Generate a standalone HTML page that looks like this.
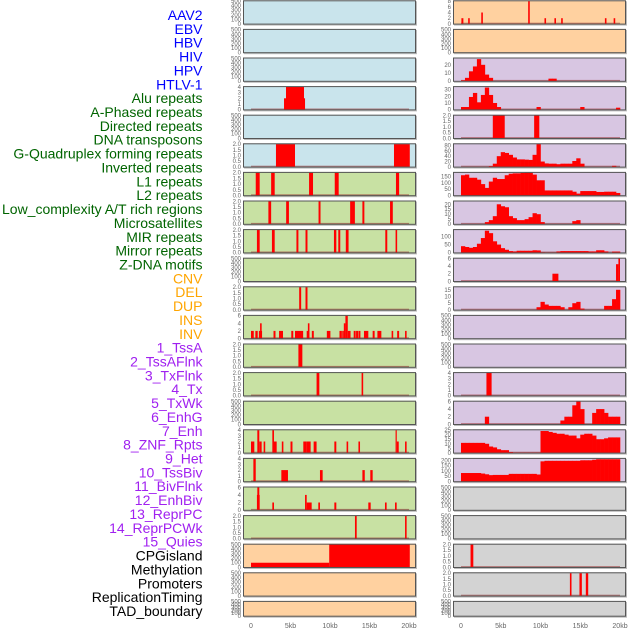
<!DOCTYPE html>
<html><head><meta charset="utf-8">
<style>
html,body{margin:0;padding:0;background:#fff;}
#wrap{position:relative;width:630px;height:630px;overflow:hidden;}
svg{position:absolute;left:0;top:0;}
</style></head>
<body>
<div id="wrap">
<svg id="chart" width="630" height="630" xmlns="http://www.w3.org/2000/svg"></svg>
</div>
<script>
// ---------- labels ----------
const labels = ["AAV2","EBV","HBV","HIV","HPV","HTLV-1","Alu repeats","A-Phased repeats","Directed repeats","DNA transposons","G-Quadruplex forming repeats","Inverted repeats","L1 repeats","L2 repeats","Low_complexity A/T rich regions","Microsatellites","MIR repeats","Mirror repeats","Z-DNA motifs","CNV","DEL","DUP","INS","INV","1_TssA","2_TssAFlnk","3_TxFlnk","4_Tx","5_TxWk","6_EnhG","7_Enh","8_ZNF_Rpts","9_Het","10_TssBiv","11_BivFlnk","12_EnhBiv","13_ReprPC","14_ReprPCWk","15_Quies","CPGisland","Methylation","Promoters","ReplicationTiming","TAD_boundary"];
const labelGroups = ["blue","blue","blue","blue","blue","blue","green","green","green","green","green","green","green","green","green","green","green","green","green","orange","orange","orange","orange","orange","purple","purple","purple","purple","purple","purple","purple","purple","purple","purple","purple","purple","purple","purple","purple","black","black","black","black","black"];

// ---------- tick sets ----------
const T500 = [0,100,200,300,400,500];
const T2 = [0,0.5,1,1.5,2];
const T4 = [0,1,2,3,4];
const T6 = [0,2,4,6];

// ---------- left column data: spikes [startKb,endKb,value] ----------
const L0 = [], L1 = [], L2 = [], L4 = [], L9 = [], L14 = [], L20 = [], L21 = [];
const L3 = [[4.18,6.84,2],[4.43,6.71,4]];
const L5 = [[3.16,5.57,2],[18.1,20.1,2]];
const L6 = [[0.6,1.1,2],[2.55,3.0,2],[7.35,7.85,2],[10.6,11.1,2],[18.35,18.75,2]];
const L7 = [[2.2,2.55,2],[4.45,4.8,2],[8.55,8.8,2],[12.55,12.85,2],[12.85,13.15,2],[14.1,14.35,2],[17.6,17.95,2]];
const L8 = [[0.75,1.1,2],[2.65,3.0,2],[5.75,6.0,2],[6.9,7.15,2],[10.5,10.8,2],[11.05,11.3,2],[12.0,12.35,2],[17.0,17.25,2],[18.3,18.5,2]];
const L10 = [[6.1,6.35,2],[6.9,7.15,2]];
const L11 = [[0.0,0.35,2],[0.55,0.85,2],[1.0,1.4,2],[1.15,1.35,4],[2.85,3.1,2],[3.55,4.05,2],[5.1,5.35,2],[5.57,6.6,2],[7.2,7.4,4],[7.05,7.35,2],[7.7,7.95,2],[9.6,10.05,2],[11.2,11.5,2],[11.55,11.75,2],[11.75,11.95,4],[11.95,12.25,6],[12.25,12.6,2],[13.0,13.25,2],[13.3,13.55,2],[13.6,13.85,2],[14.3,14.85,2],[15.4,15.65,2],[16.0,16.5,2],[17.8,18.0,2],[18.5,18.75,2],[19.5,19.7,2]];
const L12 = [[6.0,6.5,2]];
const L13 = [[8.3,8.65,2],[14.0,14.2,2]];
const L15 = [[0.0,0.42,2],[0.8,1.05,4],[1.05,1.35,2],[1.6,1.8,2],[2.7,2.91,4],[2.91,3.25,2],[3.9,4.1,2],[5.0,5.25,2],[6.62,7.05,2],[7.05,7.55,2],[7.93,8.3,2],[10.55,10.8,2],[12.1,12.3,2],[13.6,13.8,2],[18.3,18.45,4],[18.45,18.7,2],[19.5,19.7,2]];
const L16 = [[0.3,0.6,4],[3.84,4.68,2],[8.73,9.07,2],[14.1,14.4,2],[15.1,15.4,2]];
const L17 = [[0.8,1.05,6],[0.75,1.1,4],[2.7,2.91,2],[6.84,7.05,4],[7.05,7.68,2],[8.52,8.73,2],[10.55,10.8,2],[14.85,15.15,2],[16.96,17.17,2],[18.23,18.44,2]];
const L18 = [[13.16,13.38,2],[19.5,19.7,2]];
const L19 = [[0.0,9.9,100],[9.9,20.1,500]];

// ---------- right column data ----------
const R0 = [[0.05,0.3,2],[0.9,1.1,2],[2.55,2.75,4],[8.45,8.65,8],[10.5,10.7,2],[11.75,11.95,2],[12.6,12.8,2],[18.1,18.3,2],[19.2,19.4,2]];
const R1 = [];
// binned series: 40 bins of 0.5 kb
const R2 = [1,4,12,18,27,20,8,4,0,0,0,0,0,0,0,0,0,0,0,0,0,0,3,3,0,0,0,0,0,0,0,0,0,0,0,0,0,0,0,0];
const R3 = [4,4,19,25,11,22,33,22,10,4,0,0,0,0,0,0,0,0,0,4,0,0,0,0,0,0,0,0,0,0,4,0,0,0,0,0,0,0,0,3];
const R4 = [[4.0,5.5,2],[9.2,9.85,2]];
const R5 = [0,0,0,0,0,0,0,3,12,40,55,52,45,35,28,28,27,26,45,85,20,13,12,12,10,12,12,12,22,32,12,0,0,0,0,0,0,0,4,0];
const R6 = [160,165,140,140,125,90,60,110,140,130,130,160,172,175,175,178,180,180,165,120,120,40,40,40,40,40,40,40,30,15,35,35,35,35,28,28,30,30,30,20];
const R7 = [0,0,0,0,0,0,2,4,8,20,18,17,8,6,4,4,5,7,11,10,2,0,0,0,0,0,0,0,3,4,0,0,0,0,0,0,0,0,0,0];
const R8 = [40,35,30,35,55,90,135,120,70,50,28,18,10,8,12,12,12,12,15,14,3,2,2,2,8,10,10,10,10,10,10,10,8,8,15,15,8,0,7,7];
const R9 = [[11.5,12.25,2],[19.5,19.8,4.5],[19.8,20.0,6]];
const R10 = [0,0,0,0,0,0,0,0,0,0,0,0,0,0,0,0,0,0,0,2,6,4,3,3,3,2,0,2,5,6,1,0,0,0,0,0,3,3,8,15];
const R11 = [], R12 = [];
const R13 = [[3.2,3.85,4]];
const R14 = [0,0,0,0,0,0,2,0,0,0,0,0,0,0,0,0,0,0,0,0,0,0,0,0,0,1,2,2,5,6,4,0,0,3,4,4,3,2,2,2];
const R15 = [11,11,11,11,11,11,10,7,6,4,3,3,1,0.5,0.5,0.5,0.5,0.5,0.5,0.5,24,24,23,22,21,21,20,19,19,16,20,21,21,19,15,15,16,17,17,17];
const R16 = [80,80,80,80,80,75,68,60,62,62,62,62,72,72,72,72,72,72,72,66,190,195,195,195,195,195,195,195,195,195,200,200,200,205,210,210,210,210,210,210];
const R17 = [], R18 = [], R21 = [];
const R19 = [[1.2,1.55,2]];
const R20 = [[13.7,13.9,2],[14.9,15.2,2],[15.7,16.0,2]];

const xTickLabels = ["0","5kb","10kb","15kb","20kb"];
const xTickValues = [0,5,10,15,20];

// panel specs: [data, ticks, max, bg, hasData]
const BLUE="#c9e4ec", GREEN="#c8e1a3", PEACH="#ffd1a0", PURPLE="#d8c6e2", GREY="#d3d3d3";
const leftPanels = [
 [L0,T500,500,BLUE,false],[L1,T500,500,BLUE,false],[L2,T500,500,BLUE,false],[L3,T4,4,BLUE,true],
 [L4,T500,500,BLUE,false],[L5,T2,2,BLUE,true],[L6,T2,2,GREEN,true],[L7,T2,2,GREEN,true],
 [L8,T2,2,GREEN,true],[L9,T500,500,GREEN,false],[L10,T2,2,GREEN,true],[L11,T6,6,GREEN,true],
 [L12,T2,2,GREEN,true],[L13,T2,2,GREEN,true],[L14,T500,500,GREEN,false],[L15,T4,4,GREEN,true],
 [L16,T4,4,GREEN,true],[L17,T6,6,GREEN,true],[L18,T2,2,GREEN,true],[L19,T500,500,PEACH,true],
 [L20,T500,500,PEACH,false],[L21,T500,500,PEACH,false]];
const rightPanels = [
 [R0,[0,2,4,6,8],8,PEACH,true],[R1,T500,500,PEACH,false],[R2,[0,10,20],28,PURPLE,true],[R3,[0,10,20,30],34,PURPLE,true],
 [R4,T2,2,PURPLE,true],[R5,[0,20,40,60,80],85,PURPLE,true],[R6,[0,50,100,150],180,PURPLE,true],[R7,[0,5,10,15,20],23,PURPLE,true],
 [R8,[0,50,100],140,PURPLE,true],[R9,T6,6,PURPLE,true],[R10,[0,5,10,15],17,PURPLE,true],[R11,T500,500,PURPLE,false],
 [R12,T500,500,PURPLE,false],[R13,T4,4,PURPLE,true],[R14,T6,6,PURPLE,true],[R15,[0,5,10,15,20,25],25,PURPLE,true],
 [R16,[0,50,100,150,200],215,PURPLE,true],[R17,T500,500,GREY,false],[R18,T500,500,GREY,false],[R19,T2,2,GREY,true],
 [R20,T2,2,GREY,true],[R21,T500,500,GREY,false]];

const svg = document.getElementById('chart');
const NS = "http://www.w3.org/2000/svg";
function mk(tag, attrs, parent){ const e=document.createElementNS(NS,tag); for(const k in attrs) e.setAttribute(k,attrs[k]); (parent||svg).appendChild(e); return e; }

// labels
const colorMap = {blue:"#0000ff",green:"#006400",orange:"#ffa500",purple:"#a020f0",black:"#000"};
labels.forEach((t,i)=>{
  const el = mk('text',{x:202.5,y:20+i*13.86,'text-anchor':'end','font-family':'Liberation Sans, sans-serif','font-size':14,fill:colorMap[labelGroups[i]]});
  el.textContent = t;
  
  
});

function fmt(v, ticks){ const dec = ticks.some(t=>t%1!==0); return dec ? v.toFixed(1) : String(v); }

function drawPanel(spec, col, row){
  const [data, ticks, max, bg, hasData] = spec;
  const px = col===0 ? 243 : 453, pw = 173;
  const top = 0.3 + row*28.6, h = row===21 ? 15.8 : 24.3;
  const x0 = col===0 ? 251 : 461, kbw = col===0 ? 7.9 : 7.95;
  const xs = kb => x0 + kb*kbw;
  const yBase = top + h - 0.7, yTop = top + 0.8;
  const ys = v => yBase - (v/max)*(yBase - yTop);
  const g = mk('g',{});
  
  
  mk('rect',{x:px+1,y:top+1,width:pw,height:h,fill:'#bbb'},g);
  const bgr = mk('rect',{x:px,y:top,width:pw,height:h,fill:bg},g);
  
  
  // ticks
  ticks.forEach(t=>{
    const tl = mk('text',{x:px-2,y:ys(t)+2,'text-anchor':'end','font-family':'Liberation Sans, sans-serif','font-size':6,fill:'#666'},g);
    tl.textContent = fmt(t,ticks);
    
    
  });
  if(hasData){
    const bl = mk('rect',{x:xs(0),y:yBase-1.2,width:xs(20)-xs(0),height:1.4,fill:'rgba(150,40,40,0.55)'},g);
    
    
    if(data.length===40 && typeof data[0]==='number'){
      data.forEach((v,i)=>{
        if(v<=0) return;
        const b = mk('rect',{x:xs(i*0.5),y:ys(v),width:kbw*0.5+0.3,height:yBase-ys(v),fill:'#ff0000'},g);
        
        
      });
    } else {
      data.forEach(d=>{
        const b = mk('rect',{x:xs(d[0]),y:ys(d[2]),width:Math.max(1.2,xs(d[1])-xs(d[0])),height:yBase-ys(d[2]),fill:'#ff0000'},g);
        
        
      });
    }
  }
  mk('rect',{x:px+0.5,y:top+0.5,width:pw-1,height:h-1,fill:'none',stroke:'#555','stroke-width':1},g);
}
leftPanels.forEach((p,i)=>drawPanel(p,0,i));
rightPanels.forEach((p,i)=>drawPanel(p,1,i));

// x axes
[0,1].forEach(col=>{
  const x0 = col===0 ? 251 : 461, kbw = col===0 ? 7.9 : 7.95;
  xTickValues.forEach((v,i)=>{
    const t = mk('text',{x:x0+v*kbw,y:628,'text-anchor':'middle','font-family':'Liberation Sans, sans-serif','font-size':7,fill:'#666'});
    t.textContent = xTickLabels[i];
    
    
  });
});
</script>
</body></html>
